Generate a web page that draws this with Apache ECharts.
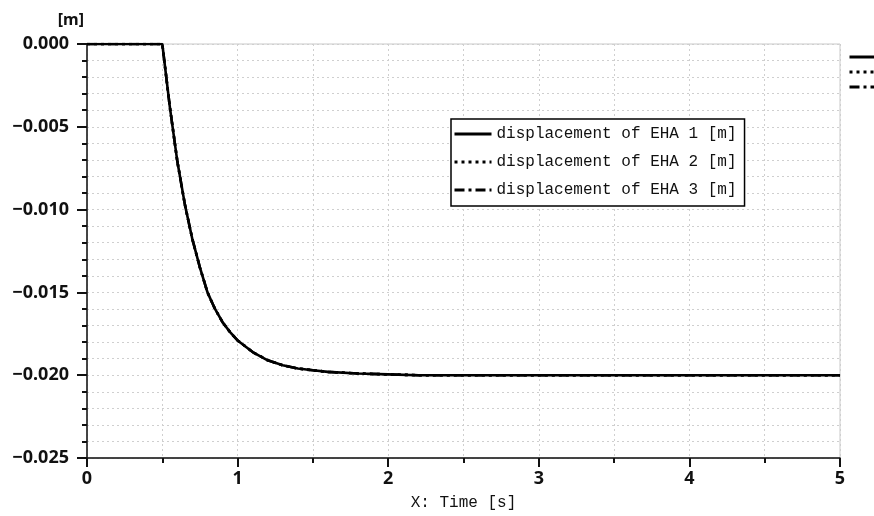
<!DOCTYPE html>
<html>
<head>
<meta charset="utf-8">
<script src="https://cdn.jsdelivr.net/npm/echarts@6/dist/echarts.min.js"></script>
<style>html,body{margin:0;padding:0;background:#fff;}#c{width:874px;height:516px;}</style>
</head>
<body>
<div id="c"></div>
<script>
var timeS = [0, 0.5, 0.55, 0.6, 0.65, 0.7, 0.75, 0.8, 0.85, 0.9, 0.95, 1.0, 1.1, 1.2, 1.3, 1.4, 1.5, 1.6, 1.8, 2.0, 2.2, 2.6, 3, 4, 5];
var dispEHA1 = [0, 0, -0.0038, -0.0071, -0.0097, -0.0118, -0.0135, -0.0150, -0.0160, -0.0168, -0.0174, -0.0179, -0.0186, -0.0191, -0.0194, -0.0196, -0.0197, -0.0198, -0.0199, -0.01995, -0.0200, -0.0200, -0.0200, -0.0200, -0.0200];
var dispEHA2 = [0, 0, -0.0038, -0.0071, -0.0097, -0.0118, -0.0135, -0.0150, -0.0160, -0.0168, -0.0174, -0.0179, -0.0186, -0.0191, -0.0194, -0.0196, -0.0197, -0.0198, -0.0199, -0.01995, -0.0200, -0.0200, -0.0200, -0.0200, -0.0200];
var dispEHA3 = [0, 0, -0.0038, -0.0071, -0.0097, -0.0118, -0.0135, -0.0150, -0.0160, -0.0168, -0.0174, -0.0179, -0.0186, -0.0191, -0.0194, -0.0196, -0.0197, -0.0198, -0.0199, -0.01995, -0.0200, -0.0200, -0.0200, -0.0200, -0.0200];
var seriesNames = ['displacement of EHA 1 [m]', 'displacement of EHA 2 [m]', 'displacement of EHA 3 [m]'];
var xTicks = [0, 1, 2, 3, 4, 5];
var yTicks = [0, -0.005, -0.01, -0.015, -0.02, -0.025];

function pairs(xs, ys) { return xs.map(function (x, i) { return [x, ys[i]]; }); }

var chart = echarts.init(document.getElementById('c'), null, { renderer: 'canvas' });
var labelFont = { fontFamily: 'Noto Sans', fontWeight: 'bold', fontSize: 18, color: '#111' };
var monoFont = 'Liberation Mono';
var gridDot = { color: '#cfcfcf', type: [2, 3], width: 1 };

var styles = [
  { type: 'solid', width: 2.6 },
  { type: [3, 4], width: 2.6 },
  { type: [10, 4, 3, 4], width: 2.6 }
];
var datas = [dispEHA1, dispEHA2, dispEHA3];

chart.setOption({
  animation: false,
  backgroundColor: '#fff',
  grid: { left: 87, right: 34, top: 44, bottom: 58, show: true, borderColor: '#c8c8c8', borderWidth: 1, outerBoundsMode: 'none', containLabel: false },
  legend: [{
    orient: 'vertical',
    left: 451, top: 119,
    data: seriesNames,
    backgroundColor: '#fff',
    borderColor: '#000', borderWidth: 1.5, borderRadius: 0,
    padding: [7, 8, 8, 2],
    itemWidth: 37, itemHeight: 16, itemGap: 12,
    itemStyle: { opacity: 0 },
    lineStyle: { width: 3 },
    textStyle: { fontFamily: monoFont, fontSize: 16, color: '#111' },
    selectedMode: false
  }, {
    orient: 'vertical',
    left: 848, top: 50,
    data: seriesNames,
    padding: 0,
    itemWidth: 30, itemHeight: 14, itemGap: 1,
    itemStyle: { opacity: 0 },
    lineStyle: { width: 3 },
    textStyle: { fontFamily: monoFont, fontSize: 12, lineHeight: 14, color: '#111' },
    selectedMode: false
  }],
  xAxis: {
    type: 'value', min: 0, max: 5, interval: 1,
    name: 'X: Time [s]', nameLocation: 'middle', nameGap: 37,
    nameTextStyle: { fontFamily: monoFont, fontSize: 16, color: '#111' },
    axisLine: { show: true, onZero: false, lineStyle: { color: '#111', width: 1.5 } },
    axisTick: { show: true, length: 9, lineStyle: { color: '#111', width: 2 } },
    minorTick: { show: true, splitNumber: 2, length: 5, lineStyle: { color: '#111', width: 2 } },
    axisLabel: Object.assign({ margin: 12, formatter: function (v) { return String(v); } }, labelFont),
    splitLine: { show: true, lineStyle: gridDot },
    minorSplitLine: { show: true, lineStyle: gridDot }
  },
  yAxis: {
    type: 'value', min: -0.025, max: 0, interval: 0.005,
    name: '[m]', nameLocation: 'end', nameGap: 16,
    nameTextStyle: { fontFamily: 'Noto Sans', fontWeight: 'bold', fontSize: 16, color: '#111', align: 'right', padding: [0, 3, 0, 0] },
    axisLine: { show: true, onZero: false, lineStyle: { color: '#111', width: 1.5 } },
    axisTick: { show: true, length: 10, lineStyle: { color: '#111', width: 2 } },
    minorTick: { show: true, splitNumber: 5, length: 5, lineStyle: { color: '#111', width: 2 } },
    axisLabel: Object.assign({ margin: 18, formatter: function (v) {
      var s = Math.abs(v).toFixed(3);
      return (v < -1e-9 ? '\u2212' : '') + s;
    } }, labelFont),
    splitLine: { show: true, lineStyle: gridDot },
    minorSplitLine: { show: true, lineStyle: gridDot }
  },
  series: datas.map(function (d, i) {
    return {
      name: seriesNames[i], type: 'line', data: pairs(timeS, d),
      symbol: 'none', showSymbol: false, smooth: false,
      color: '#000',
      lineStyle: { color: '#000', width: styles[i].width, type: styles[i].type },
      z: 3 + i
    };
  })
});
</script>
</body>
</html>
